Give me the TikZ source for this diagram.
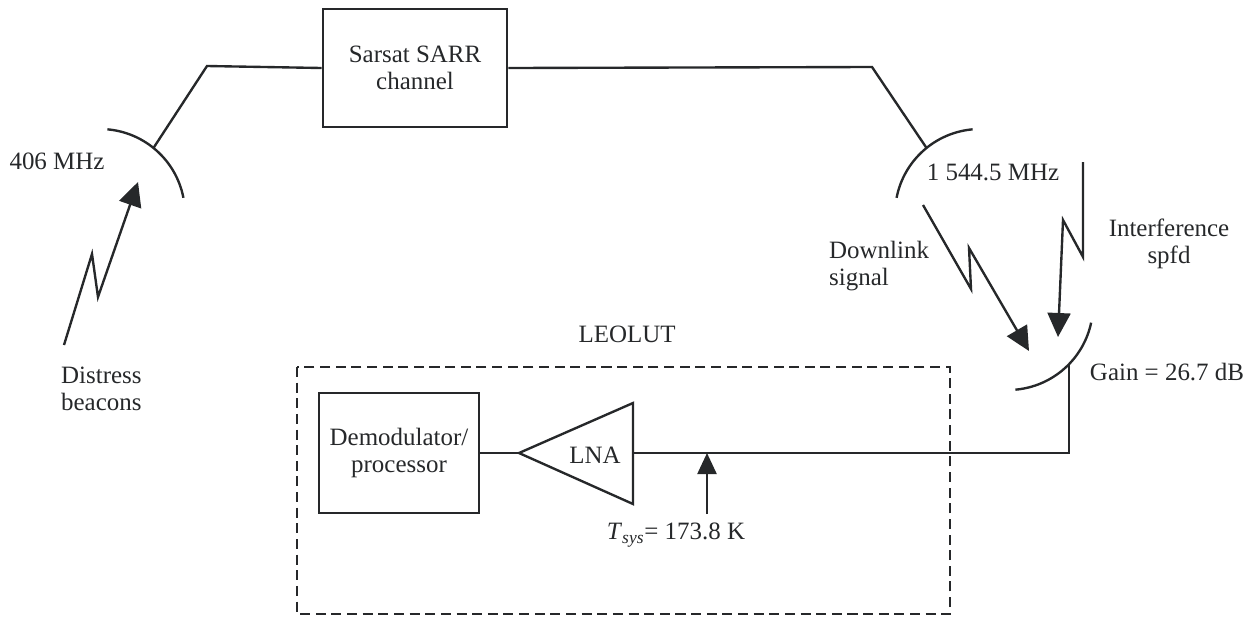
\documentclass[tikz,border=0pt]{standalone}
\usepackage{fontspec}
\setmainfont{Liberation Serif}
\usetikzlibrary{calc}
\usetikzlibrary{arrows.meta}

\definecolor{ink}{RGB}{38,40,42}

\begin{document}
\begin{tikzpicture}[x=0.02cm, y=-0.02cm, line width=1.35pt, ink,
  font=\fontsize{14.2pt}{15.4pt}\selectfont,
  blk/.style={draw, line width=1.6pt, align=center, inner sep=0pt},
  lbl/.style={inner sep=0pt},
  bolt/.style={-{Triangle[length=0.48cm, width=0.46cm]}},
  probe/.style={-{Triangle[length=0.42cm, width=0.38cm]}},
  stationbox/.style={dash pattern=on 5.7pt off 3.2pt}]
\useasboundingbox (0,0) rectangle (1256,616);

% satellite repeater and its two antennas
\node[blk, minimum width=3.68cm, minimum height=2.36cm] (sarr) at (415,68) {Sarsat SARR\\channel};
\coordinate (cA) at (100,214);
\coordinate (cB) at (980,214);
\coordinate (cC) at (1008,305);
\draw (cA) ++(85:1.7cm) arc[start angle=85, end angle=11, radius=1.7cm];
\draw (cB) ++(95:1.7cm) arc[start angle=95, end angle=169, radius=1.7cm];
\draw (cC) ++(-12:1.7cm) arc[start angle=-12, end angle=-85, radius=1.7cm];
\coordinate (feedA) at ($(cA)+(51:1.7cm)$);
\coordinate (feedB) at ($(cB)+(129:1.7cm)$);
\coordinate (feedC) at ($(cC)+(-44:1.7cm)$);
\draw (feedA) -- (207,66) -- (sarr.west);
\draw (sarr.east) -- (872,67) -- (feedB);

% labels
\node[lbl] (f406) at (57,161) {406 MHz};
\node[lbl] (f1544) at (993,172) {1 544.5 MHz};
\node[lbl, align=left, anchor=west] (beacons) at (60,389) {Distress\\beacons};
\node[lbl, align=left, anchor=west] (downlink) at (828,266) {Downlink\\signal};
\node[lbl, align=center] (interf) at (1169,244) {Interference\\spfd};
\node[lbl] (gain) at (1167,372) {Gain = 26.7 dB};
\node[lbl] (leolut) at (627,334) {LEOLUT};

% signals
\coordinate (beaconSrc) at (64,345);
\coordinate (beaconTip) at (138,182);
\draw[bolt] (beaconSrc) -- (92,254) -- (98,297) -- (beaconTip);
\coordinate (downSrc) at (923,205);
\coordinate (downTip) at (1029,351);
\draw[bolt] (downSrc) -- (971,289) -- (969,248) -- (downTip);
\coordinate (intSrc) at (1083,162);
\coordinate (intTip) at (1058,337);
\draw[bolt] (intSrc) -- (1083,257) -- (1063,220) -- (intTip);

% ground station
\draw[stationbox] (297,367) rectangle (950,614);
\node[blk, minimum width=3.2cm, minimum height=2.4cm] (demod) at (399,453) {Demodulator/\\processor};
\coordinate (lnaIn) at (519,453);
\coordinate (lnaOut) at (633,453);
\draw (lnaIn) -- (633,403) -- (633,504) -- cycle;
\node[lbl] (lna) at (595,455) {LNA};
\draw (demod.east) -- (lnaIn);
\draw (lnaOut) -- (feedC |- lnaOut) -- (feedC);
\coordinate (tsysTap) at (707,453);
\coordinate (tsysFoot) at (707,514);
\draw[probe] (tsysFoot) -- (tsysTap);
\node[lbl] (tsys) at (676,535) {\textit{T}\textsubscript{\textit{sys}}= 173.8 K};
\end{tikzpicture}
\end{document}
